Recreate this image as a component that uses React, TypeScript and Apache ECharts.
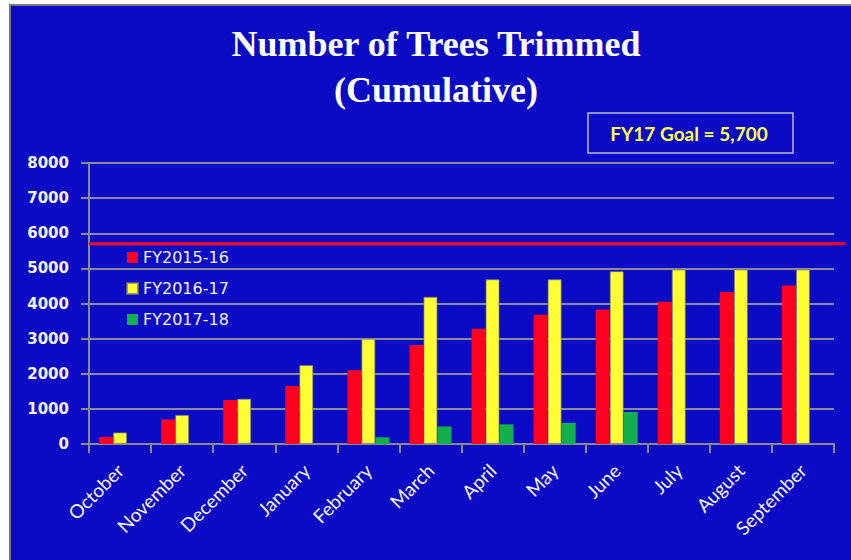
import React, { useEffect, useRef } from "react";
import * as echarts from "echarts";

const months = ["October", "November", "December", "January", "February", "March", "April", "May", "June", "July", "August", "September"];
const fy1516 = [200, 700, 1250, 1650, 2100, 2820, 3280, 3680, 3830, 4050, 4330, 4510];
const fy1617 = [330, 830, 1290, 2250, 3000, 4190, 4690, 4690, 4920, 4970, 4970, 4970];
const fy1718 = [null, null, null, null, 190, 500, 560, 600, 910, null, null, null];
const seriesNames = ["FY2015-16", "FY2016-17", "FY2017-18"];
const seriesColors = ["#ff0020", "#ffff33", "#12b04c"];
const goalValue = 5700;
const goalLabel = "FY17 Goal = 5,700";
const yMin = 0;
const yMax = 8000;
const yStep = 1000;

export default function App() {
  const ref = useRef<HTMLDivElement>(null);
  useEffect(() => {
    if (!ref.current) return;
    const chart = echarts.init(ref.current, undefined, { renderer: "svg" });
    const data = [fy1516, fy1617, fy1718];
    chart.setOption({
      animation: false,
      backgroundColor: "transparent",
      title: {
        text: "Number of Trees Trimmed\n(Cumulative)",
        left: 431,
        top: 16,
        textAlign: "center",
        textStyle: {
          fontFamily: "Liberation Serif",
          fontWeight: "bold",
          fontSize: 36,
          lineHeight: 46,
          color: "#ffffff",
        },
      },
      legend: {
        orient: "vertical",
        left: 126,
        top: 248,
        padding: 0,
        itemWidth: 11,
        itemHeight: 11,
        itemGap: 12,
        itemTextGap: 7,
        data: seriesNames.map((n) => ({ name: n, icon: "rect" })),
        textStyle: { fontFamily: "DejaVu Sans", fontSize: 16, color: "#f4f2ff", lineHeight: 19 },
      },
      grid: { left: 89, right: 17, top: 163, bottom: 116 },
      xAxis: {
        type: "category",
        data: months,
        axisLine: { show: true, lineStyle: { color: "#8a8a8a", width: 2 } },
        axisTick: { show: true, length: 9, lineStyle: { color: "#8a8a8a", width: 2 } },
        axisLabel: {
          rotate: 45,
          margin: 23,
          interval: 0,
          fontFamily: "Lato",
          fontSize: 19,
          color: "#f4f2ff",
        },
      },
      yAxis: {
        type: "value",
        min: yMin,
        max: yMax,
        interval: yStep,
        axisLine: { show: true, lineStyle: { color: "#8a8a8a", width: 2 } },
        axisTick: { show: true, length: 8, lineStyle: { color: "#8a8a8a", width: 2 } },
        splitLine: { show: true, lineStyle: { color: "#8a8a9a", width: 2 } },
        axisLabel: {
          margin: 20,
          fontFamily: "DejaVu Sans",
          fontSize: 15,
          fontWeight: "bold",
          color: "#f4f2ff",
          formatter: (v: number) => String(v),
        },
      },
      series: seriesNames.map((name, i) => ({
        name,
        type: "bar",
        data: data[i],
        barWidth: 14,
        barGap: "0%",
        itemStyle: {
          color: seriesColors[i],
          borderColor: i === 1 ? "rgba(120,120,120,0.7)" : "rgba(0,0,0,0)",
          borderWidth: i === 1 ? 1 : 0,
        },
      })),
    });
    const goalY = chart.convertToPixel({ yAxisIndex: 0 }, goalValue) as number;
    const leftX = chart.convertToPixel({ xAxisIndex: 0 }, months[0]) as number;
    chart.setOption({
      graphic: [
        {
          type: "line",
          shape: { x1: leftX - 31, y1: goalY, x2: 845, y2: goalY },
          style: { stroke: "#ff0020", lineWidth: 3 },
          z: 10,
        },
        {
          type: "rect",
          shape: { x: 588, y: 113, width: 205, height: 40 },
          style: { fill: "transparent", stroke: "#b8b8c8", lineWidth: 1.5 },
        },
        {
          type: "text",
          x: 689,
          y: 133,
          style: {
            text: goalLabel,
            fill: "#ffff44",
            font: "bold 19px Lato",
            textAlign: "center",
            textVerticalAlign: "middle",
          },
        },
      ],
    });
    return () => chart.dispose();
  }, []);
  return (
    <div style={{ position: "fixed", left: 0, top: 0, width: 851, height: 560, background: "#ffffff" }}>
      <div
        style={{
          position: "absolute",
          left: 9,
          top: 4,
          width: 842,
          height: 556,
          background: "#0b0bc6",
          borderLeft: "2px solid #7a7a7a",
          borderTop: "2px solid #7a7a7a",
          boxSizing: "border-box",
        }}
      />
      <div ref={ref} style={{ position: "absolute", left: 0, top: 0, width: 851, height: 560 }} />
    </div>
  );
}
